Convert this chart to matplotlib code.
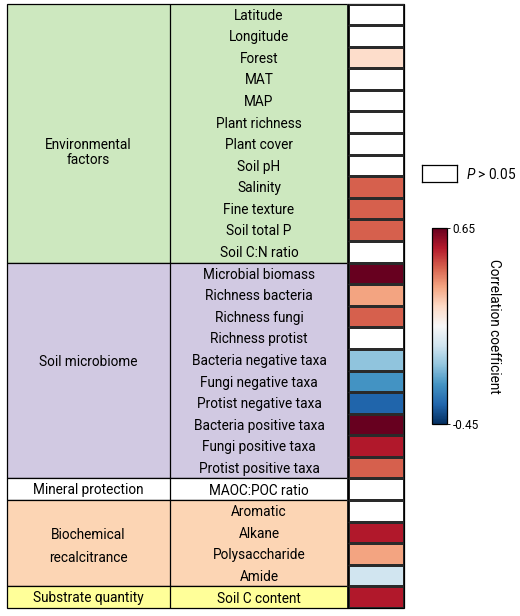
import numpy as np
import matplotlib
matplotlib.use("Agg")
import matplotlib.pyplot as plt
from matplotlib.patches import Rectangle
from matplotlib.colors import TwoSlopeNorm

plt.rcParams['font.family'] = ['Roboto', 'DejaVu Sans']
plt.rcParams['mathtext.fontset'] = 'custom'
plt.rcParams['mathtext.it'] = 'Roboto:italic'
plt.rcParams['mathtext.rm'] = 'Roboto'

# groups: label, number of rows, colour
groups = ["Environmental\nfactors", "Soil microbiome", "Mineral protection",
          "Biochemical\nrecalcitrance", "Substrate quantity"]
group_sizes = [12, 10, 1, 4, 1]
group_colors = ["#cde8bf", "#d1c9e2", "#ffffff", "#fcd5b4", "#ffff99"]
label_rows = [6.9, 16.6, 22.55, 25.15, 27.55]   # where each group label sits

variables = ["Latitude", "Longitude", "Forest", "MAT", "MAP", "Plant richness",
             "Plant cover", "Soil pH", "Salinity", "Fine texture", "Soil total P",
             "Soil C:N ratio",
             "Microbial biomass", "Richness bacteria", "Richness fungi",
             "Richness protist", "Bacteria negative taxa", "Fungi negative taxa",
             "Protist negative taxa", "Bacteria positive taxa", "Fungi positive taxa",
             "Protist positive taxa",
             "MAOC:POC ratio",
             "Aromatic", "Alkane", "Polysaccharide", "Amide",
             "Soil C content"]

# correlation coefficients, nan = P > 0.05
corr = [np.nan, np.nan, 0.12, np.nan, np.nan, np.nan,
        np.nan, np.nan, 0.39, 0.39, 0.39, np.nan,
        0.65, 0.26, 0.39, np.nan, -0.18, -0.27,
        -0.36, 0.65, 0.52, 0.39,
        np.nan,
        np.nan, 0.52, 0.26, -0.09,
        0.52]

W, H = 520, 616
fig = plt.figure(figsize=(W / 100, H / 100), dpi=100)

# table axes in pixel layout
x0, x1 = 7, 404
y0, y1 = 3.5, 608
ax = fig.add_axes([x0 / W, 1 - y1 / H, (x1 - x0) / W, (y1 - y0) / H])
col_edges = [0, 163, 341, 397]
n = len(variables)
ax.set_xlim(0, col_edges[-1])
ax.set_ylim(n, 0)
ax.axis('off')

fs = 9.8
lw = 0.9
start = 0
for label, size, color, ly in zip(groups, group_sizes, group_colors, label_rows):
    ax.add_patch(Rectangle((0, start), col_edges[2], size, facecolor=color,
                           edgecolor='black', lw=lw, clip_on=False))
    ls = 1.75 if label.startswith("Biochemical") else 1.15
    ax.text(col_edges[1] / 2, ly, label, ha='center', va='center',
            fontsize=fs, linespacing=ls)
    start += size
ax.vlines(col_edges[1], 0, n, color='black', lw=lw)

for i, v in enumerate(variables):
    ax.text((col_edges[1] + col_edges[2]) / 2, i + 0.56, v, ha='center',
            va='center', fontsize=fs)

# heatmap column
cmap = plt.get_cmap('RdBu_r').copy()
cmap.set_bad('white')
norm = TwoSlopeNorm(vmin=-0.45, vcenter=0, vmax=0.65)
vals = np.ma.masked_invalid(np.array(corr).reshape(-1, 1))
mesh = ax.pcolormesh([col_edges[2], col_edges[3]], np.arange(n + 1), vals,
                     cmap=cmap, norm=norm, edgecolors='#2a2a2a', linewidth=lw)
ax.add_patch(Rectangle((col_edges[2], 0), col_edges[3] - col_edges[2], n,
                       facecolor='none', edgecolor='black', lw=lw, clip_on=False))
ax.hlines(np.arange(n + 1), col_edges[2], col_edges[3], color='#2a2a2a', lw=lw)

# P > 0.05 legend
lax = fig.add_axes([422 / W, 1 - 182 / H, 35 / W, 17 / H])
lax.set_xticks([])
lax.set_yticks([])
for s in lax.spines.values():
    s.set_linewidth(0.9)
fig.text(466 / W, 1 - 174 / H, r"$\mathit{P}$ > 0.05", ha='left', va='center',
         fontsize=fs)

# colorbar
cax = fig.add_axes([432 / W, 1 - 424 / H, 15 / W, 196 / H])
cb = fig.colorbar(mesh, cax=cax, ticks=[-0.45, 0.65])
cb.ax.set_yticklabels(["-0.45", "0.65"], fontsize=8.5)
cb.ax.tick_params(length=2, width=0.6, pad=2)
cb.outline.set_linewidth(0.9)
cb.set_label("Correlation coefficient", rotation=270, fontsize=fs, labelpad=16)

plt.savefig("out.png", dpi=100)
